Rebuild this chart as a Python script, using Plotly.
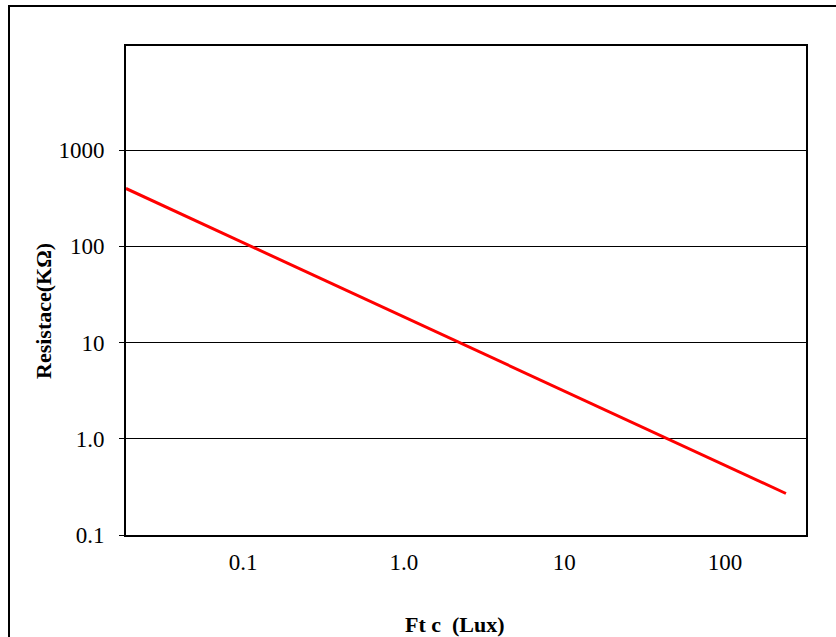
import plotly.graph_objects as go

# Data
lux = [0.0186, 240]          # illuminance (ft-c / lux), log scale
resistance = [400, 0.27]     # resistance in kOhm

x_tick_vals = [0.1, 1, 10, 100]
x_tick_text = ["0.1", "1.0", "10", "100"]
y_tick_vals = [0.1, 1, 10, 100, 1000]
y_tick_text = ["0.1", "1.0", "10", "100", "1000"]

x_title = "Ft c  (Lux)"
y_title = "Resistace(KΩ)"

serif = "Liberation Serif, Times New Roman, serif"

fig = go.Figure()
fig.add_trace(go.Scatter(
    x=lux, y=resistance, mode="lines",
    line=dict(color="#ff0000", width=3),
    showlegend=False, hoverinfo="skip",
))

L, R, T, B = 126, 30, 46, 102
W, H = 836, 637
pw, ph = W - L - R, H - T - B

fig.update_layout(
    width=W, height=H,
    margin=dict(l=L, r=R, t=T, b=B, pad=0),
    paper_bgcolor="white", plot_bgcolor="white",
    font=dict(family=serif, size=23, color="black"),
    xaxis=dict(
        type="log", range=[-1.73, 2.505],
        tickvals=x_tick_vals, ticktext=x_tick_text,
        showgrid=False, zeroline=False,
        showline=True, linecolor="black", linewidth=2, mirror=True,
        ticks="outside", ticklen=5, tickcolor="rgba(0,0,0,0)",
        tickfont=dict(family=serif, size=23, color="black"),
    ),
    yaxis=dict(
        type="log", range=[-1, 4.083],
        tickvals=y_tick_vals, ticktext=y_tick_text,
        showgrid=True, gridcolor="black", gridwidth=1,
        zeroline=False,
        showline=True, linecolor="black", linewidth=2, mirror=True,
        ticks="outside", ticklen=5, tickcolor="black",
        ticklabelstandoff=10,
        tickfont=dict(family=serif, size=23, color="black"),
    ),
    shapes=[
        dict(type="rect", xref="paper", yref="paper",
             x0=(9 - L) / pw, x1=(W + 10 - L) / pw,
             y0=-(H + 10 - (T + ph)) / ph, y1=(T + ph - 6) / ph,
             line=dict(color="black", width=2), layer="below"),
    ],
    annotations=[
        dict(text="<b>" + x_title + "</b>", xref="paper", yref="paper",
             x=(455 - L) / pw, y=-(624 - (T + ph)) / ph,
             showarrow=False, xanchor="center", yanchor="middle",
             font=dict(family=serif, size=22, color="black")),
        dict(text="<b>" + y_title + "</b>", xref="paper", yref="paper",
             x=(43 - L) / pw, y=(T + ph - 311) / ph,
             showarrow=False, xanchor="center", yanchor="middle",
             textangle=-90,
             font=dict(family=serif, size=22, color="black")),
    ],
)

fig.write_html("out.html")
